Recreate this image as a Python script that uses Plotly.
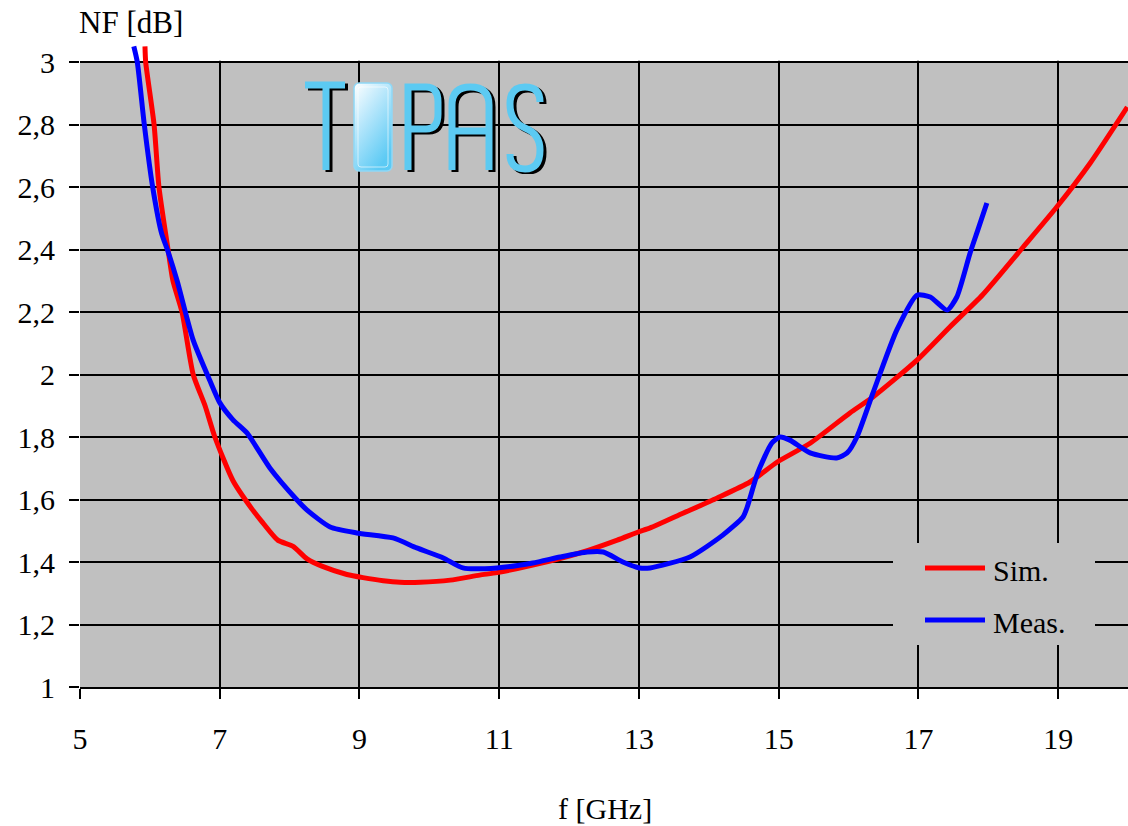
import base64
import plotly.graph_objects as go

# Simulated noise figure
sim_f = [5.93, 5.94, 6.06, 6.13, 6.26, 6.33, 6.46, 6.62, 6.79, 6.93, 7.19, 7.46, 7.60, 7.83,
         8.05, 8.25, 8.48, 8.82, 9.05, 9.34, 9.58, 9.87, 10.30, 10.72, 10.97, 11.48, 12.20,
         12.69, 12.99, 13.16, 13.63, 14.12, 14.59, 14.98, 15.45, 16.02, 16.35, 16.98, 17.45,
         17.92, 18.50, 18.98, 19.46, 19.99]
sim_nf = [3.05, 3.00, 2.80, 2.60, 2.40, 2.30, 2.20, 2.00, 1.90, 1.80, 1.66, 1.57, 1.53, 1.47,
          1.45, 1.41, 1.385, 1.36, 1.35, 1.34, 1.335, 1.335, 1.342, 1.358, 1.366, 1.39, 1.432,
          1.47, 1.496, 1.509, 1.556, 1.605, 1.656, 1.72, 1.78, 1.877, 1.928, 2.046, 2.152,
          2.255, 2.408, 2.536, 2.677, 2.856]

# Measured noise figure
meas_f = [5.77, 5.82, 5.92, 6.04, 6.17, 6.25, 6.39, 6.62, 6.86, 7.00, 7.19, 7.39, 7.72, 8.10,
          8.25, 8.58, 8.96, 9.48, 9.82, 10.20, 10.48, 10.97, 11.48, 11.87, 12.26, 12.49, 12.77,
          13.01, 13.16, 13.73, 14.20, 14.49, 14.55, 14.70, 14.90, 15.02, 15.16, 15.45, 15.83,
          15.98, 16.12, 16.35, 16.69, 16.98, 17.17, 17.41, 17.55, 17.74, 17.85, 17.98]
meas_nf = [3.05, 3.00, 2.80, 2.60, 2.45, 2.40, 2.30, 2.11, 1.98, 1.91, 1.855, 1.813, 1.70, 1.60,
           1.566, 1.512, 1.493, 1.477, 1.445, 1.413, 1.381, 1.381, 1.397, 1.416, 1.432, 1.432, 1.40,
           1.381, 1.381, 1.416, 1.486, 1.544, 1.576, 1.685, 1.78, 1.80, 1.79, 1.749, 1.733,
           1.749, 1.80, 1.941, 2.142, 2.254, 2.248, 2.206, 2.248, 2.389, 2.462, 2.549]

series_names = ["Sim.", "Meas."]
series_colors = ["#ff0000", "#0000ff"]

x_ticks = [5, 7, 9, 11, 13, 15, 17, 19]
y_ticks = [1.0, 1.2, 1.4, 1.6, 1.8, 2.0, 2.2, 2.4, 2.6, 2.8, 3.0]
y_tick_text = ["1", "1,2", "1,4", "1,6", "1,8", "2", "2,2", "2,4", "2,6", "2,8", "3"]

FONT = "Liberation Serif"
W, H = 1128, 826
ML, MR, MT, MB = 80, 0, 43, 139
PW, PH = W - ML - MR, H - MT - MB
Y_TOP = 3.0608


def px(x):
    return (x - ML) / PW


def py(y):
    return (H - MB - y) / PH


# TOPAS logo as an inline SVG
letters = """
<path d='M5 7 H45 M26 7 V92'/>
<path d='M108 92 V9 H126 Q138 9 138 24 V36 Q138 51 126 51 H108'/>
<path d='M152 92 V27 Q152 9 170.5 9 Q189 9 189 27 V92 M152 53 H189'/>
<path d='M240 24 Q240 9 225 9 Q210 9 210 26 Q210 44 225 50 Q240 56 240 72 Q240 91 225 91 Q210 91 210 76'/>
"""
logo_svg = f"""<svg xmlns='http://www.w3.org/2000/svg' width='250' height='96' viewBox='0 0 250 96'>
<defs>
<linearGradient id='g' x1='0' y1='0' x2='0.6' y2='1'>
<stop offset='0' stop-color='#ffffff'/>
<stop offset='0.45' stop-color='#b5e6fb'/>
<stop offset='1' stop-color='#5ccaf4'/>
</linearGradient>
</defs>
<g fill='none' stroke='#000000' stroke-width='7' transform='translate(3,2)'>{letters}</g>
<g fill='none' stroke='#5ccaf2' stroke-width='7'>{letters}</g>
<rect x='54' y='5' width='38' height='88' rx='5' fill='url(#g)' stroke='#8fd8f6' stroke-width='1.5'/>
<rect x='58' y='9' width='30' height='80' rx='3' fill='none' stroke='#ffffff' stroke-opacity='0.6' stroke-width='1'/>
</svg>"""
logo_uri = "data:image/svg+xml;base64," + base64.b64encode(logo_svg.encode()).decode()

fig = go.Figure()
for f, nf, name, color in [(sim_f, sim_nf, series_names[0], series_colors[0]),
                           (meas_f, meas_nf, series_names[1], series_colors[1])]:
    fig.add_trace(go.Scatter(x=f, y=nf, mode="lines", name=name,
                             line=dict(color=color, width=5, shape="spline", smoothing=0.6),
                             showlegend=False))

shapes = [
    # grey plotting region
    dict(type="rect", xref="x", yref="y", x0=5, x1=20, y0=1, y1=3,
         fillcolor="#c0c0c0", line=dict(width=0), layer="below"),
    # white band above NF = 3 hides the grid but not the curves
    dict(type="rect", xref="x", yref="y", x0=4.9, x1=20.1, y0=3.004, y1=Y_TOP + 0.01,
         fillcolor="white", line=dict(width=0), layer="between"),
    # legend box
    dict(type="rect", xref="paper", yref="paper", x0=px(893), x1=px(1095), y0=py(645), y1=py(543),
         fillcolor="#c0c0c0", line=dict(width=0), layer="above"),
]
annotations = [
    dict(text="NF [dB]", xref="paper", yref="paper", x=px(77), y=py(22), xanchor="left",
         yanchor="middle", showarrow=False, font=dict(family=FONT, size=31, color="black")),
    dict(text="f [GHz]", xref="paper", yref="paper", x=px(605), y=py(808), xanchor="center",
         yanchor="middle", showarrow=False, font=dict(family=FONT, size=30, color="black")),
]
for name, color, ly in zip(series_names, series_colors, [568, 620]):
    shapes.append(dict(type="line", xref="paper", yref="paper", x0=px(925), x1=px(985),
                       y0=py(ly), y1=py(ly), line=dict(color=color, width=5), layer="above"))
    annotations.append(dict(text=name, xref="paper", yref="paper", x=px(991), y=py(ly + 2),
                            xanchor="left", yanchor="middle", showarrow=False,
                            font=dict(family=FONT, size=30, color="black")))

fig.update_layout(
    width=W, height=H,
    margin=dict(l=ML, r=MR, t=MT, b=MB),
    paper_bgcolor="white", plot_bgcolor="white",
    font=dict(family=FONT, size=30, color="black"),
    shapes=shapes, annotations=annotations,
    images=[dict(source=logo_uri, xref="paper", yref="paper", x=px(300), y=py(78),
                 sizex=250 / PW, sizey=96 / PH, xanchor="left", yanchor="top",
                 sizing="stretch", layer="above")],
)
fig.update_xaxes(range=[5, 20], tickvals=x_ticks, ticks="outside", ticklen=10, tickwidth=2,
                 tickcolor="black", showgrid=True, gridcolor="black", gridwidth=2,
                 showline=True, linecolor="black", linewidth=2, zeroline=False,
                 ticklabelstandoff=14, tickfont=dict(family=FONT, size=30))
fig.update_yaxes(range=[1, Y_TOP], tickvals=y_ticks, ticktext=y_tick_text, ticks="outside",
                 ticklen=10, tickwidth=2, tickcolor="black", showgrid=True, gridcolor="black",
                 gridwidth=2, showline=False, zeroline=False,
                 ticklabelstandoff=8, tickfont=dict(family=FONT, size=30))

fig.write_html("out.html")
